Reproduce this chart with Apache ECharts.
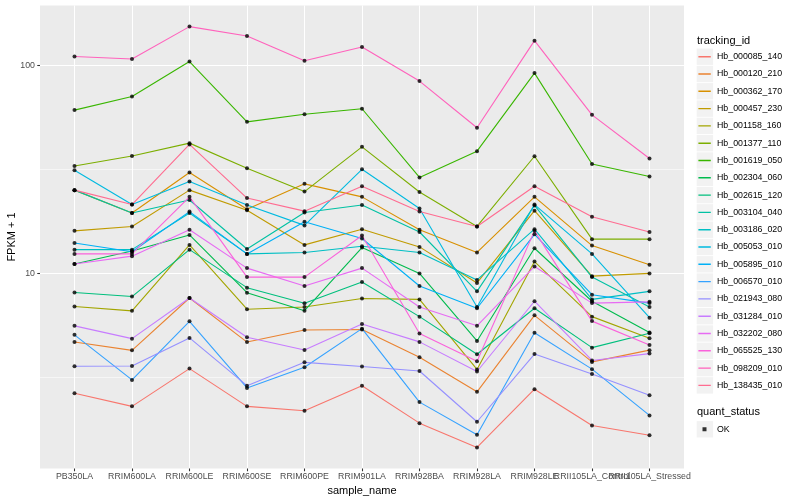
<!DOCTYPE html>
<html><head><meta charset="utf-8">
<script src="https://cdn.jsdelivr.net/npm/echarts/dist/echarts.min.js"></script>
<style>html,body{margin:0;padding:0;background:#fff}#c{width:800px;height:500px}</style>
</head><body><div id="c"></div>
<script>
const categories = ['PB350LA','RRIM600LA','RRIM600LE','RRIM600SE','RRIM600PE','RRIM901LA','RRIM928BA','RRIM928LA','RRIM928LE','RRII105LA_Control','RRII105LA_Stressed'];
const trackingIds = ['Hb_000085_140','Hb_000120_210','Hb_000362_170','Hb_000457_230','Hb_001158_160','Hb_001377_110','Hb_001619_050','Hb_002304_060','Hb_002615_120','Hb_003104_040','Hb_003186_020','Hb_005053_010','Hb_005895_010','Hb_006570_010','Hb_021943_080','Hb_031284_010','Hb_032202_080','Hb_065525_130','Hb_098209_010','Hb_138435_010'];
const colors = ['#F8766D','#EA8331','#D89000','#C09B00','#A3A500','#7CAE00','#39B600','#00BB4E','#00BF7D','#00C1A3','#00BFC4','#00BAE0','#00B0F6','#35A2FF','#9590FF','#C77CFF','#E76BF3','#FA62DB','#FF62BC','#FF6C91'];

const Hb_000085_140 = [2.66, 2.30, 3.49, 2.30, 2.19, 2.89, 1.91, 1.46, 2.78, 1.86, 1.67];
const Hb_000120_210 = [4.68, 4.27, 7.62, 4.68, 5.35, 5.38, 3.96, 2.70, 6.29, 3.76, 4.28];
const Hb_000362_170 = [25.1, 19.5, 30.5, 20.3, 26.9, 23.3, 16.2, 12.6, 23.3, 13.6, 11.0];
const Hb_000457_230 = [16.0, 16.8, 25.1, 20.1, 13.7, 16.3, 13.4, 9.0, 20.0, 9.7, 10.0];
const Hb_001158_160 = [6.93, 6.61, 13.7, 6.73, 6.9, 7.57, 7.5, 3.46, 11.4, 6.2, 4.88];
const Hb_001377_110 = [32.8, 36.6, 42.2, 32.0, 24.7, 40.5, 24.6, 16.8, 36.5, 14.6, 14.6];
const Hb_001619_050 = [60.8, 70.7, 104, 53.4, 58.1, 61.7, 28.9, 38.6, 91.5, 33.5, 29.2];
const Hb_002304_060 = [11.1, 12.8, 15.3, 8.08, 6.62, 13.3, 10.0, 4.74, 13.2, 7.35, 5.2];
const Hb_002615_120 = [8.1, 7.74, 13.0, 8.54, 7.19, 9.1, 6.2, 4.09, 6.8, 4.4, 5.16];
const Hb_003104_040 = [25.1, 19.5, 22.5, 13.1, 19.6, 21.3, 15.8, 8.2, 21.2, 9.6, 6.9];
const Hb_003186_020 = [13.0, 13.0, 19.5, 12.4, 12.6, 13.5, 12.6, 9.3, 16.3, 7.5, 8.2];
const Hb_005053_010 = [31.3, 21.4, 27.6, 21.3, 17.0, 31.6, 20.5, 6.9, 21.4, 12.4, 6.13];
const Hb_005895_010 = [14.0, 12.7, 19.8, 12.4, 17.7, 14.7, 8.7, 6.8, 15.4, 7.9, 7.2];
const Hb_006570_010 = [5.07, 3.08, 5.89, 2.82, 3.54, 5.43, 2.41, 1.68, 5.19, 3.47, 2.08];
const Hb_021943_080 = [3.58, 3.59, 4.90, 2.89, 3.74, 3.57, 3.40, 1.94, 4.10, 3.29, 2.60];
const Hb_031284_010 = [5.60, 4.86, 7.62, 4.94, 4.29, 5.71, 4.69, 3.38, 7.35, 3.82, 4.12];
const Hb_032202_080 = [11.1, 12.1, 16.2, 10.6, 8.7, 10.6, 6.9, 5.6, 10.8, 7.2, 7.3];
const Hb_065525_130 = [12.4, 12.4, 23.3, 9.6, 9.6, 15.2, 5.15, 3.79, 16.0, 5.9, 4.53];
const Hb_098209_010 = [110, 107, 153, 138, 105, 122, 83.8, 50, 131, 57.7, 35.6];
const Hb_138435_010 = [25.1, 21.4, 41.6, 23.0, 19.9, 26.2, 19.8, 16.8, 26.2, 18.7, 15.8];

const yTickValues = [10, 100];
const yMinorValues = [3.1623, 31.623];
const yLimits = [1.157, 193.2];

const seriesValues = [Hb_000085_140,Hb_000120_210,Hb_000362_170,Hb_000457_230,Hb_001158_160,Hb_001377_110,Hb_001619_050,Hb_002304_060,Hb_002615_120,Hb_003104_040,Hb_003186_020,Hb_005053_010,Hb_005895_010,Hb_006570_010,Hb_021943_080,Hb_031284_010,Hb_032202_080,Hb_065525_130,Hb_098209_010,Hb_138435_010];

const L = v => Math.log10(v);
const FONT = '"Liberation Sans", Arial, Helvetica, sans-serif';
const catIdx = categories.map((c, i) => i);
const evenIdx = catIdx.filter(i => i % 2 === 0);
const oddIdx = catIdx.filter(i => i % 2 === 1);

const lineSeries = trackingIds.map((id, k) => ({
  name: id, type: 'line', xAxisIndex: 0, yAxisIndex: 0,
  data: seriesValues[k].map((v, i) => [i, L(v)]),
  symbol: 'none', showSymbol: false,
  lineStyle: { width: 1.1, color: colors[k] }, itemStyle: { color: colors[k] },
  z: 2, animation: false, silent: true
}));
const pts = [];
seriesValues.forEach(arr => arr.forEach((v, i) => pts.push([i, L(v)])));
const scatter = { name: 'OK', type: 'scatter', data: pts, symbol: 'circle', symbolSize: 4,
  itemStyle: { color: '#000' }, z: 5, animation: false, silent: true };

// legend layout constants
const LEG_X = 697, FIRST_C = 56.7, KEY = 16, STEP = 17.3, OK_C = 429.3;
const LINE_ICON = 'path://M0,0h0.01v0.01h-0.01z M1.4,7.3h12.4v1.4h-12.4z M15,16h0.01v0.01h-0.01z';
const DOT_ICON = 'path://M0,0h0.01v0.01h-0.01z M5.5,6h4v4h-4z M15,16h0.01v0.01h-0.01z';
const graphics = [];
graphics.push({ type: 'text', x: LEG_X, y: 40.7, style: { text: 'tracking_id', fontSize: 11, fontFamily: FONT, fill: '#000', verticalAlign: 'middle' } });
const legends = [];
trackingIds.forEach((id, i) => {
  const c = FIRST_C + i * STEP;
  graphics.push({ type: 'rect', shape: { x: LEG_X - 0.3, y: c - 8.2, width: 16.4, height: 16.4 }, style: { fill: '#F2F2F2' }, z: 0 });
  legends.push({ orient: 'vertical', left: LEG_X, top: c - KEY / 2, padding: 0,
    itemWidth: 15, itemHeight: KEY, data: [id], selectedMode: false, icon: LINE_ICON,
    itemStyle: { borderWidth: 0 },
    textStyle: { fontSize: 8.8, color: '#000', fontFamily: FONT } });
});
graphics.push({ type: 'text', x: LEG_X, y: 412.3, style: { text: 'quant_status', fontSize: 11, fontFamily: FONT, fill: '#000', verticalAlign: 'middle' } });
graphics.push({ type: 'rect', shape: { x: LEG_X - 0.3, y: OK_C - 8.2, width: 16.4, height: 16.4 }, style: { fill: '#F2F2F2' }, z: 0 });
legends.push({ orient: 'vertical', left: LEG_X, top: OK_C - KEY / 2, padding: 0,
  itemWidth: 15, itemHeight: KEY, data: ['OK'], selectedMode: false, icon: DOT_ICON,
  itemStyle: { borderWidth: 0 },
  textStyle: { fontSize: 8.8, color: '#000', fontFamily: FONT } });

const xLabelStyle = { color: '#4D4D4D', fontSize: 8.8, fontFamily: FONT, margin: 3.5, hideOverlap: false, showMinLabel: true, showMaxLabel: true, formatter: v => categories[Math.round(v)] };

const chart = echarts.init(document.getElementById('c'), null, { renderer: 'canvas' });
chart.setOption({
  animation: false,
  backgroundColor: '#fff',
  textStyle: { fontFamily: FONT },
  grid: { left: 40, top: 5.5, width: 644, height: 463, show: true, backgroundColor: '#EBEBEB', borderWidth: 0, containLabel: false, outerBoundsMode: 'none' },
  xAxis: [{
    type: 'value', min: -0.6, max: 10.6, position: 'bottom',
    axisLine: { show: false, onZero: false },
    axisTick: { show: true, customValues: catIdx, length: 2.75, lineStyle: { color: '#333', width: 1.07 } },
    axisLabel: Object.assign({ customValues: evenIdx }, xLabelStyle),
    splitLine: { show: true, lineStyle: { color: '#fff', width: 1.07 } },
    name: 'sample_name', nameLocation: 'middle', nameGap: 14,
    nameTextStyle: { fontSize: 11, color: '#000', fontFamily: FONT }
  }, {
    type: 'value', min: -0.6, max: 10.6, position: 'bottom', offset: 0,
    axisLine: { show: false, onZero: false },
    axisTick: { show: false, customValues: oddIdx },
    axisLabel: Object.assign({ customValues: oddIdx }, xLabelStyle),
    splitLine: { show: false }
  }],
  yAxis: [{
    type: 'value', min: L(yLimits[0]), max: L(yLimits[1]), position: 'left',
    axisLine: { show: false, onZero: false },
    axisTick: { show: true, customValues: yTickValues.map(L), length: 2.75, lineStyle: { color: '#333', width: 1.07 } },
    axisLabel: { customValues: yTickValues.map(L), formatter: v => String(Math.round(Math.pow(10, v))), color: '#4D4D4D', fontSize: 8.8, fontFamily: FONT, margin: 5, showMinLabel: true, showMaxLabel: true },
    splitLine: { show: true, lineStyle: { color: '#fff', width: 1.07 } },
    name: 'FPKM + 1', nameLocation: 'middle', nameGap: 22.5, nameRotate: 90, nameMoveOverlap: false,
    nameTextStyle: { fontSize: 11, color: '#000', fontFamily: FONT }
  }, {
    type: 'value', min: L(yLimits[0]), max: L(yLimits[1]), position: 'right',
    axisLine: { show: false, onZero: false },
    axisTick: { show: false, customValues: yMinorValues.map(L) },
    axisLabel: { show: false, customValues: yMinorValues.map(L) },
    splitLine: { show: true, lineStyle: { color: '#fff', width: 0.55 } }
  }],
  legend: legends,
  graphic: graphics,
  series: lineSeries.concat([scatter])
});
</script></body></html>
